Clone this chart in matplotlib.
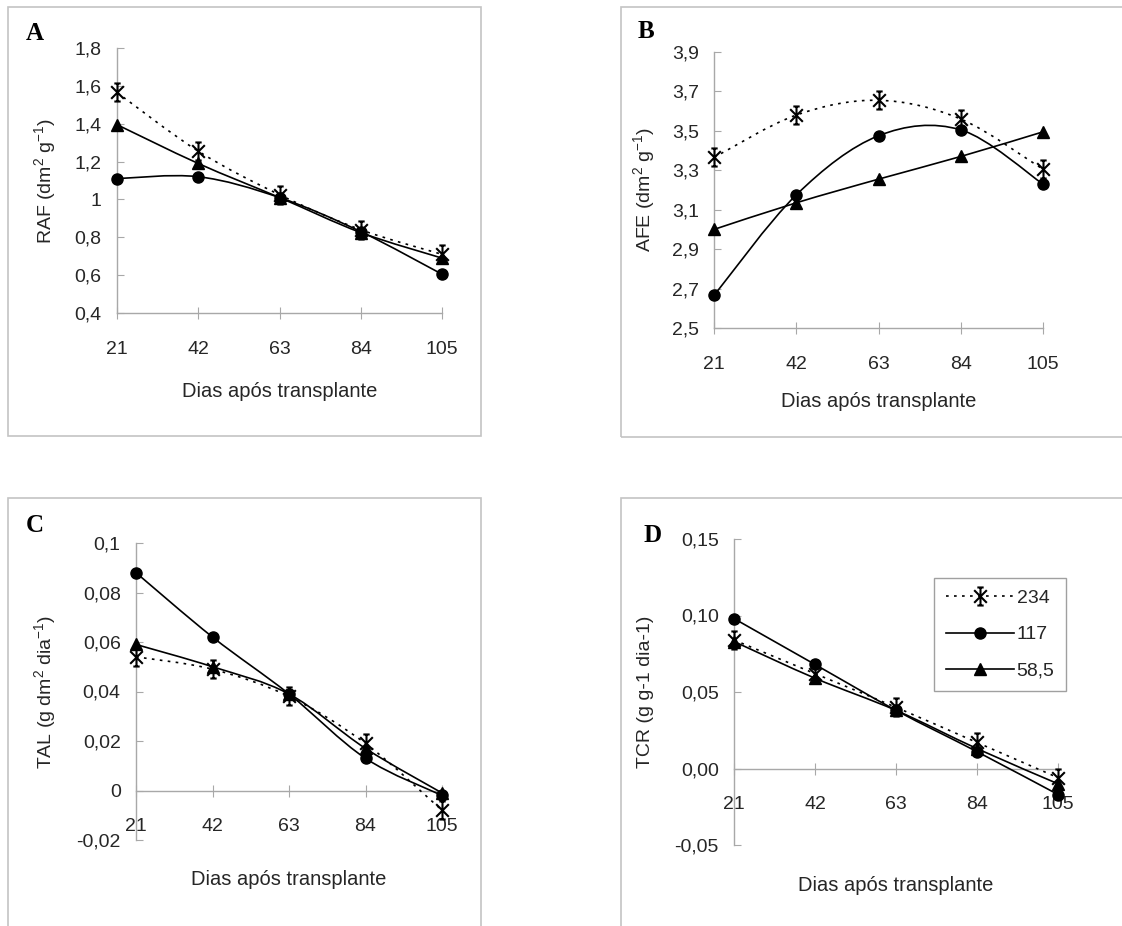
import numpy as np
import matplotlib
matplotlib.use('Agg')
import matplotlib.pyplot as plt
from matplotlib.path import Path
from matplotlib.patches import PathPatch, Rectangle
from matplotlib.lines import Line2D

plt.rcParams['font.family'] = ['Liberation Sans', 'DejaVu Sans']
plt.rcParams['mathtext.fontset'] = 'custom'
plt.rcParams['mathtext.rm'] = 'Liberation Sans'
plt.rcParams['mathtext.default'] = 'regular'

# dias apos transplante
dias = [21, 42, 63, 84, 105]
dias_labels = ['21', '42', '63', '84', '105']
series_names = ['234', '117', '58,5']

# A - RAF
raf_234 = [1.565, 1.255, 1.025, 0.84, 0.71]
raf_117 = [1.11, 1.12, 1.01, 0.83, 0.605]
raf_585 = [1.395, 1.19, 1.01, 0.825, 0.69]
raf_ticks = [0.4, 0.6, 0.8, 1.0, 1.2, 1.4, 1.6, 1.8]
raf_ticklabels = ['0,4', '0,6', '0,8', '1', '1,2', '1,4', '1,6', '1,8']

# B - AFE
afe_234 = [3.365, 3.58, 3.655, 3.56, 3.305]
afe_117 = [2.665, 3.175, 3.475, 3.505, 3.23]
afe_585 = [3.0, 3.135, 3.255, 3.37, 3.495]
afe_ticks = [2.5, 2.7, 2.9, 3.1, 3.3, 3.5, 3.7, 3.9]
afe_ticklabels = ['2,5', '2,7', '2,9', '3,1', '3,3', '3,5', '3,7', '3,9']

# C - TAL
tal_234 = [0.054, 0.049, 0.038, 0.019, -0.008]
tal_117 = [0.088, 0.062, 0.039, 0.013, -0.002]
tal_585 = [0.059, 0.050, 0.039, 0.017, -0.001]
tal_ticks = [-0.02, 0.0, 0.02, 0.04, 0.06, 0.08, 0.1]
tal_ticklabels = ['-0,02', '0', '0,02', '0,04', '0,06', '0,08', '0,1']

# D - TCR
tcr_234 = [0.084, 0.062, 0.040, 0.017, -0.006]
tcr_117 = [0.098, 0.068, 0.038, 0.011, -0.017]
tcr_585 = [0.083, 0.059, 0.038, 0.013, -0.010]
tcr_ticks = [-0.05, 0.0, 0.05, 0.10, 0.15]
tcr_ticklabels = ['-0,05', '0,00', '0,05', '0,10', '0,15']

GRAY = '#a8a8a8'
TXT = '#262626'

# excel-like star marker: X + vertical bar with small caps
star = Path([(-0.7, -0.7), (0.7, 0.7), (-0.7, 0.7), (0.7, -0.7),
             (0, -1), (0, 1), (-0.35, 1), (0.35, 1), (-0.35, -1), (0.35, -1)],
            [Path.MOVETO, Path.LINETO] * 5)

styles = [
    dict(marker=star, ms=13, mew=1.5, ls=(0, (1.6, 3.2)), mfc='none'),
    dict(marker='o', ms=8, mew=1.0, ls='-', mfc='black'),
    dict(marker='^', ms=9, mew=1.0, ls='-', mfc='black'),
]


def smooth_line(ax, x, y, ls):
    # excel style smoothed line (bezier through the points)
    pts = np.column_stack([x, y]).astype(float)
    n = len(pts)
    verts = [pts[0]]
    codes = [Path.MOVETO]
    for i in range(n - 1):
        p0 = pts[max(i - 1, 0)]
        p1 = pts[i]
        p2 = pts[i + 1]
        p3 = pts[min(i + 2, n - 1)]
        c1 = p1 + (p2 - p0) / 6.0
        c2 = p2 - (p3 - p1) / 6.0
        verts += [c1, c2, p2]
        codes += [Path.CURVE4] * 3
    patch = PathPatch(Path(verts, codes), fill=False, edgecolor='black',
                      lw=1.2, linestyle=ls, clip_on=False, zorder=3)
    ax.add_patch(patch)


def panel(rect, series, ylim, ticks, ticklabels, ylabel, ylab_x, xlab_y, letter, letter_xy, zero_axis):
    ax = fig.add_axes(rect)
    for vals, st in zip(series, styles):
        smooth_line(ax, dias, vals, st['ls'])
        ax.plot(dias, vals, ls='none', marker=st['marker'], ms=st['ms'],
                mfc=st['mfc'], mec='black', mew=st['mew'], clip_on=False, zorder=4)
    ax.set_xlim(21, 105)
    ax.set_ylim(*ylim)
    ax.set_xticks(dias)
    ax.set_xticklabels(dias_labels)
    ax.set_yticks(ticks)
    ax.set_yticklabels(ticklabels)
    for s in ['top', 'right']:
        ax.spines[s].set_visible(False)
    for s in ['left', 'bottom']:
        ax.spines[s].set_color(GRAY)
        ax.spines[s].set_linewidth(1.0)
    if zero_axis:
        ax.spines['bottom'].set_position(('data', 0))
    ax.tick_params(axis='y', direction='in', length=5, width=0.8, color=GRAY,
                   labelsize=14, labelcolor=TXT, pad=11)
    ax.tick_params(axis='x', direction='inout', length=8, width=0.8, color=GRAY,
                   labelsize=14, labelcolor=TXT, pad=16)
    ax.patch.set_alpha(0)
    ax.set_ylabel(ylabel, fontsize=14, color=TXT, va='center')
    ax.yaxis.set_label_coords(ylab_x, 0.5)
    ax.set_xlabel('Dias após transplante', fontsize=14.5, color=TXT, va='top')
    ax.xaxis.set_label_coords(0.5, xlab_y)
    fig.text(letter_xy[0] / 1122, 1 - letter_xy[1] / 926, letter, family='Liberation Serif',
             weight='bold', fontsize=18, ha='center', va='center', color='black')
    return ax


fig = plt.figure(figsize=(11.22, 9.26), dpi=100)
fig.patch.set_facecolor('white')

# panel frames
for x0, y0, x1, y1 in [(8, 7, 481, 436), (621, 7, 1130, 437), (8, 498, 481, 935), (621, 498, 1130, 935)]:
    fig.patches.append(Rectangle((x0 / 1122, 1 - y1 / 926), (x1 - x0) / 1122, (y1 - y0) / 926,
                                 transform=fig.transFigure, fill=False, edgecolor='#c4c4c4', lw=1.2))

panel([117 / 1122, 1 - 313 / 926, 325 / 1122, 265 / 926], [raf_234, raf_117, raf_585],
      (0.4, 1.8), raf_ticks, raf_ticklabels, 'RAF (dm$^{2}$ g$^{-1}$)', -0.222, -0.262, 'A', (35, 33), False)
panel([714 / 1122, 1 - 328 / 926, 329 / 1122, 276 / 926], [afe_234, afe_117, afe_585],
      (2.5, 3.9), afe_ticks, afe_ticklabels, 'AFE (dm$^{2}$ g$^{-1}$)', -0.213, -0.232, 'B', (646, 32), False)
panel([136 / 1122, 1 - 840 / 926, 306 / 1122, 297 / 926], [tal_234, tal_117, tal_585],
      (-0.02, 0.1), tal_ticks, tal_ticklabels, 'TAL (g dm$^{2}$ dia$^{-1}$)', -0.297, -0.102, 'C', (35, 526), True)
axd = panel([734 / 1122, 1 - 845 / 926, 324 / 1122, 306 / 926], [tcr_234, tcr_117, tcr_585],
            (-0.05, 0.15), tcr_ticks, tcr_ticklabels, 'TCR (g g-1 dia-1)', -0.272, -0.100, 'D', (653, 535), True)

handles = [Line2D([], [], color='black', lw=1.2, ls=st['ls'], marker=st['marker'], ms=st['ms'],
                  mfc=st['mfc'], mec='black', mew=st['mew']) for st in styles]
leg = axd.legend(handles, series_names, loc='upper left', bbox_to_anchor=(934 / 1122, 1 - 578 / 926),
                 bbox_transform=fig.transFigure, borderaxespad=0, fontsize=14, handlelength=3.5,
                 handletextpad=0.15, labelspacing=0.95, borderpad=0.6, fancybox=False, framealpha=1)
leg.get_frame().set_edgecolor('#a0a0a0')
leg.get_frame().set_linewidth(1.0)
for t in leg.get_texts():
    t.set_color(TXT)

fig.savefig('out.png', dpi=100)
